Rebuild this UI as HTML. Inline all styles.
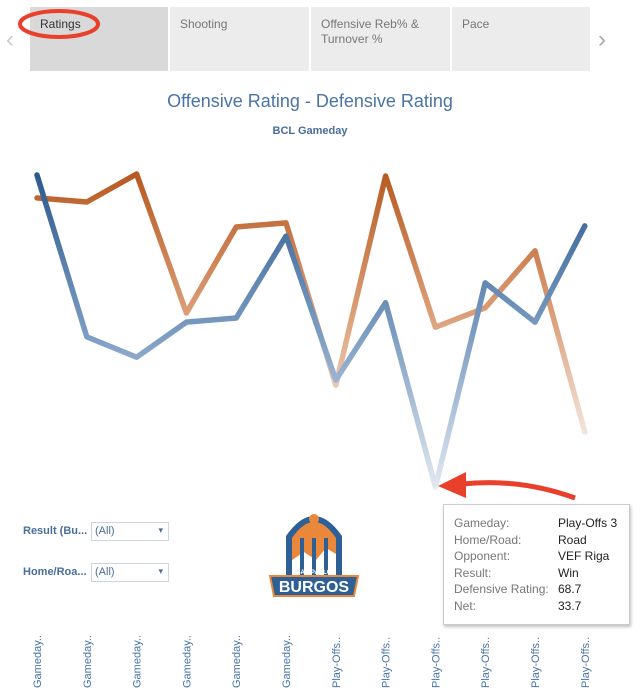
<!DOCTYPE html>
<html><head><meta charset="utf-8"><style>
body{margin:0;width:640px;height:697px;background:#fff;font-family:"Liberation Sans",sans-serif;position:relative;overflow:hidden}
.tab{position:absolute;top:7px;height:64px;background:#ececec;font-size:12px;color:#777;padding:10px;box-sizing:border-box;line-height:15px}
.abs{position:absolute}
.sel{position:absolute;left:91px;width:78px;height:19px;border:1px solid #cdd5e0;font-size:11px;color:#4a6d9a;box-sizing:border-box;padding:2px 3px}
.sel:after{content:"▾";position:absolute;right:5px;top:2px;font-size:9px}
.lbl{position:absolute;left:23px;font-size:11px;font-weight:bold;color:#4a6d9a}
</style></head><body>
<div class="tab" style="left:30px;width:138px;background:#d9d9d9;color:#333">Ratings</div>
<div class="tab" style="left:170px;width:139px">Shooting</div>
<div class="tab" style="left:311px;width:139px">Offensive Reb% &amp;<br>Turnover %</div>
<div class="tab" style="left:452px;width:138px">Pace</div>
<div class="abs" style="left:6px;top:26px;font-size:24px;color:#ccc">‹</div>
<div class="abs" style="left:598px;top:26px;font-size:24px;color:#aaa">›</div>
<svg class="abs" style="left:0;top:0" width="640" height="697">
<ellipse cx="59" cy="24" rx="39" ry="13" fill="none" stroke="#e8402a" stroke-width="4"/>
</svg>
<div class="abs" style="left:0;width:620px;top:91px;text-align:center;font-size:18px;color:#4a74a8">Offensive Rating - Defensive Rating</div>
<div class="abs" style="left:0;width:620px;top:125px;text-align:center;font-size:11px;font-weight:bold;color:#4a6d9a">BCL Gameday</div>
<svg id="chart" class="abs" style="left:0;top:0" width="640" height="697">
<defs>
<linearGradient id="gb" gradientUnits="userSpaceOnUse" x1="0" y1="175" x2="0" y2="490"><stop offset="0" stop-color="#2d5a8e"/><stop offset="0.5" stop-color="#7b9cc2"/><stop offset="1" stop-color="#e4e9f0"/></linearGradient>
<linearGradient id="go" gradientUnits="userSpaceOnUse" x1="0" y1="174" x2="0" y2="435"><stop offset="0" stop-color="#b85a22"/><stop offset="0.55" stop-color="#dca07a"/><stop offset="1" stop-color="#f2e6de"/></linearGradient>
</defs>
</svg>
<svg class="abs" style="left:0;top:0" width="640" height="697">
<path d="M575 498 Q520 478 462 484" fill="none" stroke="#e8402a" stroke-width="5"/>
<polygon points="438,486 466,472 466,498" fill="#e8402a"/>
</svg>
<div class="lbl" style="top:525px">Result (Bu...</div>
<div class="sel" style="top:522px">(All)</div>
<div class="lbl" style="top:566px">Home/Roa...</div>
<div class="sel" style="top:563px">(All)</div>
<svg class="abs" style="left:268px;top:508px" width="92" height="92">
<path d="M18 80 L18 28 Q46 -12 74 28 L74 80 Z" fill="#2e5f95"/>
<path d="M24 72 L24 30 Q46 -2 68 30 L68 72 Z" fill="#e9883a"/>
<path d="M24 72 L24 52 L36 44 L48 52 L58 40 L68 46 L68 72 Z" fill="#fff"/>
<rect x="32" y="30" width="4" height="40" fill="#2e5f95"/>
<rect x="44" y="30" width="4" height="40" fill="#2e5f95"/>
<rect x="56" y="30" width="4" height="40" fill="#2e5f95"/>
<circle cx="46" cy="11" r="5" fill="#e9883a"/>
<path d="M2 68 L90 68 L86 88 L6 88 Z" fill="#2e5f95" stroke="#e9883a" stroke-width="2"/>
<text x="46" y="84" text-anchor="middle" font-size="16" font-weight="bold" fill="#fff" font-family="Liberation Sans">BURGOS</text>
<text x="46" y="66" text-anchor="middle" font-size="6" font-weight="bold" fill="#fff" font-family="Liberation Sans">SAN PABLO</text>
</svg>
<div class="abs" style="left:443px;top:504px;width:187px;height:121px;background:#fff;border:1px solid #ccc;box-shadow:1px 2px 3px rgba(0,0,0,.25);font-size:12px;line-height:16.5px;box-sizing:border-box;padding:10px 0 0 10px">
<div style="display:grid;grid-template-columns:104px auto">
<span style="color:#777">Gameday:</span><span style="color:#222">Play-Offs 3</span>
<span style="color:#777">Home/Road:</span><span style="color:#222">Road</span>
<span style="color:#777">Opponent:</span><span style="color:#222">VEF Riga</span>
<span style="color:#777">Result:</span><span style="color:#222">Win</span>
<span style="color:#777">Defensive Rating:</span><span style="color:#222">68.7</span>
<span style="color:#777">Net:</span><span style="color:#222">33.7</span>
</div></div>
<script>
const categories=["Gameday..","Gameday..","Gameday..","Gameday..","Gameday..","Gameday..","Play-Offs..","Play-Offs..","Play-Offs..","Play-Offs..","Play-Offs..","Play-Offs.."];
const defensiveRating=[130.0,98.2,94.2,101.1,101.9,118.0,89.7,104.9,68.7,108.8,101.1,120.0];
const offensiveRating=[125.5,124.7,130.2,102.9,119.8,120.6,88.7,129.8,100.1,103.9,115.1,79.5];
const xs=i=>37+i*49.8;
const ys=v=>487-(v-68.7)/0.1965;
const svg=document.getElementById('chart');
const NS='http://www.w3.org/2000/svg';
function line(vals,grad,name){
  const p=document.createElementNS(NS,'polyline');
  p.setAttribute('points',vals.map((v,i)=>xs(i)+','+ys(v)).join(' '));
  p.setAttribute('fill','none');p.setAttribute('stroke','url(#'+grad+')');
  p.setAttribute('stroke-width','5.5');p.setAttribute('stroke-linejoin','round');p.setAttribute('stroke-linecap','round');
  
  
  svg.appendChild(p);
}
line(offensiveRating,'go','offensive-rating-line');
line(defensiveRating,'gb','defensive-rating-line');
categories.forEach((c,i)=>{
  const t=document.createElementNS(NS,'text');
  t.setAttribute('transform','translate('+(xs(i)+4)+',688) rotate(-90)');
  t.setAttribute('font-size','11');t.setAttribute('fill','#4a74a8');
  t.setAttribute('font-family','Liberation Sans');
  t.textContent=c;
  
  
  svg.appendChild(t);
});
</script>
</body></html>
